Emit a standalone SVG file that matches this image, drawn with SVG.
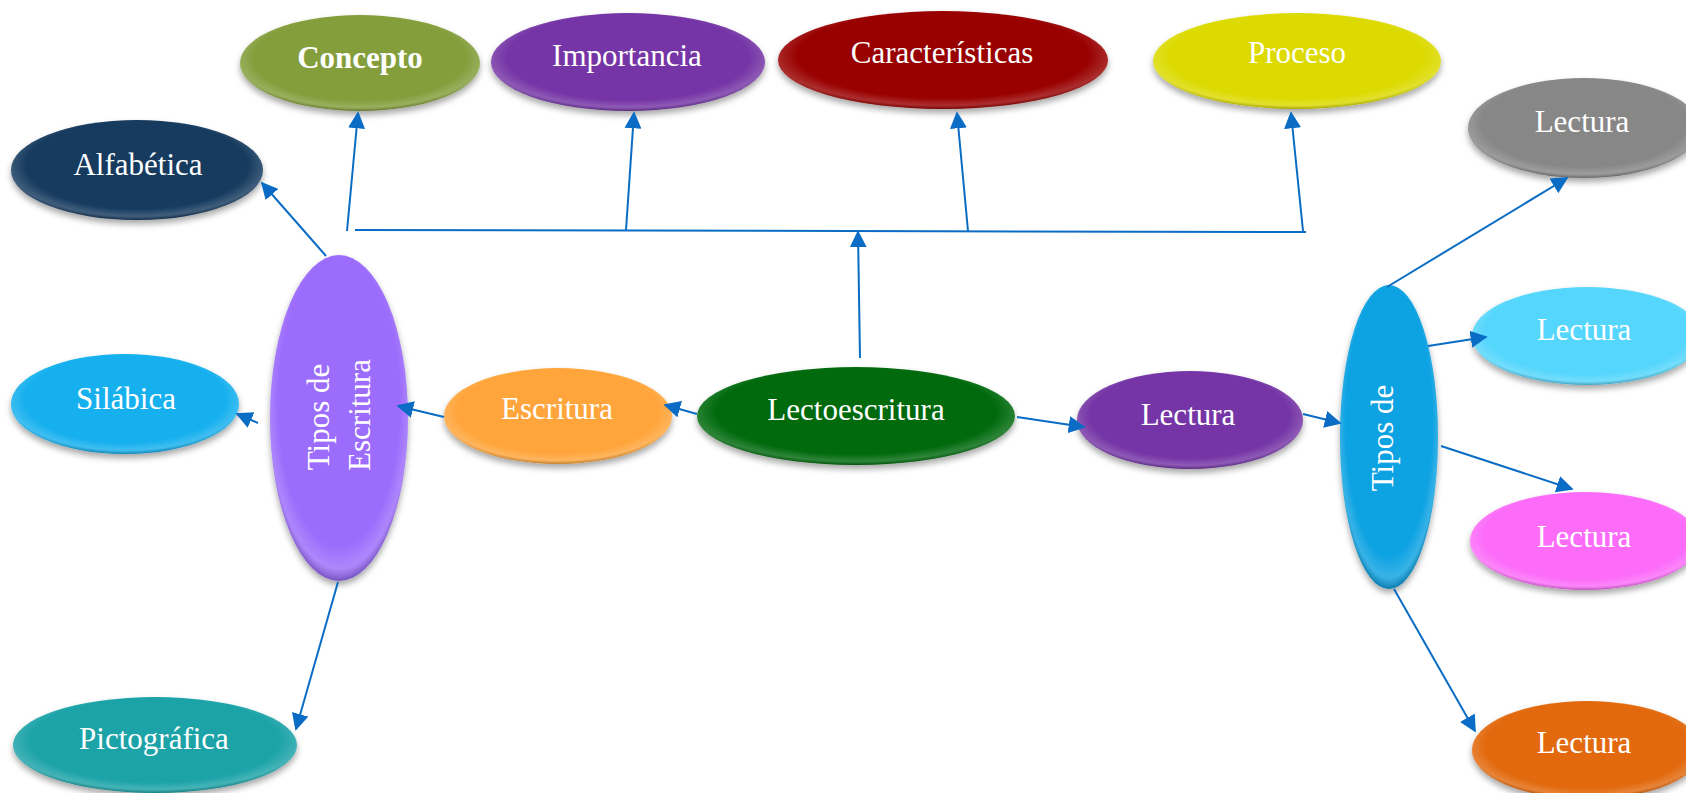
<svg xmlns="http://www.w3.org/2000/svg" width="1686" height="793" viewBox="0 0 1686 793">
<defs>
<style>
.lbl{font-family:"Liberation Serif","Times New Roman",serif;font-size:31px;fill:#ffffff;text-anchor:middle}
.b{font-weight:bold}
.conn line{stroke:#0A6CC4;stroke-width:2;fill:none;marker-end:url(#ah2)}
.conn line.plain{marker-end:none}
.node ellipse.shape{filter:url(#sh)}
.gloss{fill:url(#gl);pointer-events:none}
</style>
<marker id="ah2" viewBox="0 0 10 10" refX="9" refY="5" markerWidth="17" markerHeight="17" markerUnits="userSpaceOnUse" orient="auto">
<path d="M0,0 L10,5 L0,10 z" fill="#0A6CC4"/>
</marker>
<filter id="sh" x="-20%" y="-20%" width="140%" height="150%">
<feDropShadow dx="0" dy="4" stdDeviation="3" flood-color="#000" flood-opacity="0.35"/>
</filter>
<radialGradient id="gl" cx="50%" cy="45%" r="55%">
<stop offset="0.8" stop-color="#fff" stop-opacity="0"/>
<stop offset="0.93" stop-color="#fff" stop-opacity="0.18"/>
<stop offset="1" stop-color="#000" stop-opacity="0.25"/>
</radialGradient>
</defs>
<rect width="1686" height="793" fill="#ffffff"/>

<g id="concepto" class="node">
<ellipse class="shape" cx="360" cy="63" rx="120" ry="48" fill="#839E3B"/>
<ellipse class="gloss" cx="360" cy="63" rx="120" ry="48"/>
<text class="lbl b" x="360" y="68">Concepto</text>
</g>
<g id="importancia" class="node">
<ellipse class="shape" cx="628" cy="62" rx="137" ry="49" fill="#7434A6"/>
<ellipse class="gloss" cx="628" cy="62" rx="137" ry="49"/>
<text class="lbl" x="627" y="66">Importancia</text>
</g>
<g id="caracteristicas" class="node">
<ellipse class="shape" cx="943" cy="60" rx="165" ry="49" fill="#990404"/>
<ellipse class="gloss" cx="943" cy="60" rx="165" ry="49"/>
<text class="lbl" x="942" y="63">Características</text>
</g>
<g id="proceso" class="node">
<ellipse class="shape" cx="1297" cy="61" rx="144" ry="48" fill="#DCDA00"/>
<ellipse class="gloss" cx="1297" cy="61" rx="144" ry="48"/>
<text class="lbl" x="1297" y="63">Proceso</text>
</g>
<g id="alfabetica" class="node">
<ellipse class="shape" cx="137" cy="170" rx="126" ry="50" fill="#183A5E"/>
<ellipse class="gloss" cx="137" cy="170" rx="126" ry="50"/>
<text class="lbl" x="138" y="175">Alfabética</text>
</g>
<g id="silabica" class="node">
<ellipse class="shape" cx="125" cy="404" rx="114" ry="50" fill="#12B0EE"/>
<ellipse class="gloss" cx="125" cy="404" rx="114" ry="50"/>
<text class="lbl" x="126" y="409">Silábica</text>
</g>
<g id="pictografica" class="node">
<ellipse class="shape" cx="155" cy="745" rx="142" ry="48" fill="#1AA3A8"/>
<ellipse class="gloss" cx="155" cy="745" rx="142" ry="48"/>
<text class="lbl" x="154" y="749">Pictográfica</text>
</g>
<g id="tipos-escritura" class="node">
<ellipse class="shape" cx="339" cy="418" rx="69" ry="163" fill="#9C6CFC"/>
<ellipse class="gloss" cx="339" cy="418" rx="69" ry="163"/>
<text class="lbl" transform="translate(329 417) rotate(-90)" x="0" y="0">Tipos de</text>
<text class="lbl" transform="translate(370 415) rotate(-90)" x="0" y="0">Escritura</text>
</g>
<g id="escritura" class="node">
<ellipse class="shape" cx="558" cy="416" rx="114" ry="48" fill="#FFA53A"/>
<ellipse class="gloss" cx="558" cy="416" rx="114" ry="48"/>
<text class="lbl" x="557" y="419">Escritura</text>
</g>
<g id="lectoescritura" class="node">
<ellipse class="shape" cx="856" cy="416" rx="159" ry="49" fill="#066A0C"/>
<ellipse class="gloss" cx="856" cy="416" rx="159" ry="49"/>
<text class="lbl" x="856" y="420">Lectoescritura</text>
</g>
<g id="lectura" class="node">
<ellipse class="shape" cx="1190" cy="420" rx="113" ry="49" fill="#7434A6"/>
<ellipse class="gloss" cx="1190" cy="420" rx="113" ry="49"/>
<text class="lbl" x="1188" y="425">Lectura</text>
</g>
<g id="tipos-lectura" class="node">
<ellipse class="shape" cx="1389" cy="437" rx="49" ry="152" fill="#0AA2E2"/>
<ellipse class="gloss" cx="1389" cy="437" rx="49" ry="152"/>
<text class="lbl" transform="translate(1393 438) rotate(-90)" x="0" y="0">Tipos de</text>
</g>
<g id="lectura-1" class="node">
<ellipse class="shape" cx="1584" cy="128" rx="116" ry="50" fill="#878787"/>
<ellipse class="gloss" cx="1584" cy="128" rx="116" ry="50"/>
<text class="lbl" x="1582" y="132">Lectura</text>
</g>
<g id="lectura-2" class="node">
<ellipse class="shape" cx="1587" cy="336" rx="115" ry="49" fill="#55D6FC"/>
<ellipse class="gloss" cx="1587" cy="336" rx="115" ry="49"/>
<text class="lbl" x="1584" y="340">Lectura</text>
</g>
<g id="lectura-3" class="node">
<ellipse class="shape" cx="1585" cy="541" rx="115" ry="49" fill="#FC6CF9"/>
<ellipse class="gloss" cx="1585" cy="541" rx="115" ry="49"/>
<text class="lbl" x="1584" y="547">Lectura</text>
</g>
<g id="lectura-4" class="node">
<ellipse class="shape" cx="1587" cy="750" rx="115" ry="49" fill="#E2690B"/>
<ellipse class="gloss" cx="1587" cy="750" rx="115" ry="49"/>
<text class="lbl" x="1584" y="753">Lectura</text>
</g>

<g id="connectors" class="conn">
<line class="plain" x1="355" y1="230" x2="1306" y2="232"/>
<line x1="860" y1="358" x2="858" y2="232"/>
<line x1="347" y1="231" x2="358" y2="113"/>
<line x1="626" y1="230" x2="634" y2="113"/>
<line x1="968" y1="231" x2="957" y2="113"/>
<line x1="1303" y1="231" x2="1291" y2="113"/>
<line x1="326" y1="256" x2="262" y2="183"/>
<line x1="258" y1="423" x2="237" y2="414"/>
<line x1="338" y1="582" x2="296" y2="729"/>
<line x1="444" y1="417" x2="398" y2="406"/>
<line x1="697" y1="414" x2="665" y2="405"/>
<line x1="1017" y1="417" x2="1084" y2="427"/>
<line x1="1303" y1="414" x2="1340" y2="423"/>
<line x1="1387" y1="287" x2="1567" y2="178"/>
<line x1="1428" y1="346" x2="1486" y2="337"/>
<line x1="1441" y1="446" x2="1572" y2="489"/>
<line x1="1394" y1="589" x2="1475" y2="731"/>
</g>
</svg>
